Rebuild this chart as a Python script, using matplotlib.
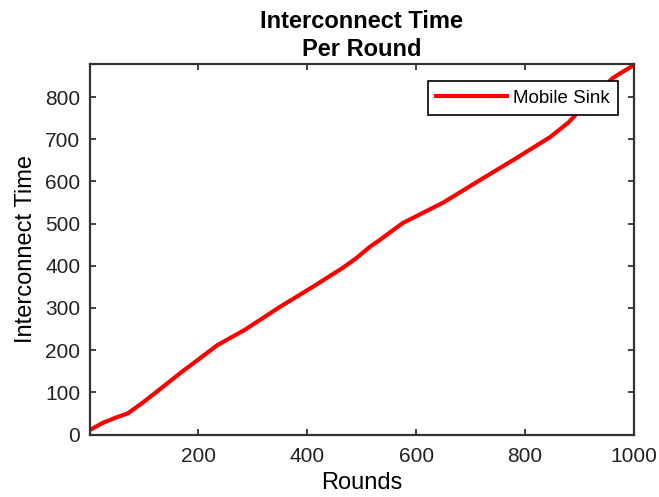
import matplotlib.pyplot as plt

plt.rcParams['font.family'] = ['Liberation Sans', 'DejaVu Sans']

# values
rounds = [1, 25, 50, 70, 95, 123, 169, 200, 235, 285, 349, 410, 465, 490, 515, 533,
          575, 650, 717, 780, 846, 880, 901, 961, 1000]
interconnect = [11, 28, 41, 50, 73, 101, 148, 178, 212, 248, 302, 350, 395, 418, 445, 461,
                501, 550, 603, 652, 705, 740, 769, 845, 876]
xticks = [200, 400, 600, 800, 1000]
yticks = [0, 100, 200, 300, 400, 500, 600, 700, 800]

fig = plt.figure(figsize=(6.59, 4.97), dpi=100)
ax = fig.add_axes([0.1366, 0.1256, 0.8254, 0.7454])

ax.plot(rounds, interconnect, color='#ff0000', lw=3, label='Mobile Sink')

ax.set_xlim(1, 1000)
ax.set_ylim(0, 878)
ax.set_xticks(xticks)
ax.set_yticks(yticks)
ax.tick_params(direction='in', top=True, right=True, length=4, width=1.2,
               labelsize=15, colors='#222222')
ax.tick_params(axis='x', pad=9)
ax.tick_params(axis='y', pad=7)
for s in ax.spines.values():
    s.set_linewidth(1.6)
    s.set_color('#333333')

ax.set_xlabel('Rounds', fontsize=17, labelpad=4)
ax.set_ylabel('Interconnect Time', fontsize=17, labelpad=6)
ax.set_title('Interconnect Time\nPer Round', fontsize=17, fontweight='bold', pad=6,
             linespacing=1.25)

leg = ax.legend(loc='upper right', bbox_to_anchor=(0.971, 0.954), borderaxespad=0,
                fontsize=13.5, handlelength=3.8, fancybox=False, framealpha=1,
                edgecolor='black', borderpad=0.45, handletextpad=0.3)
leg.get_frame().set_linewidth(1.2)

fig.savefig('out.png', dpi=100)
